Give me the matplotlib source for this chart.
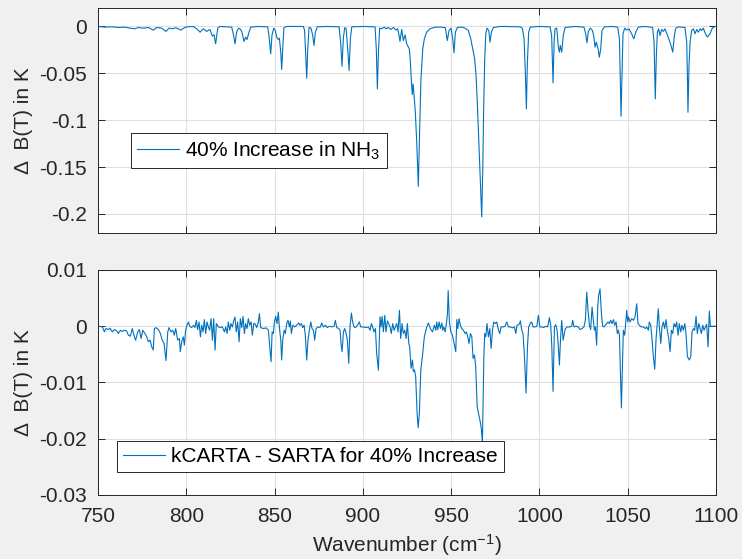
import matplotlib
matplotlib.use('Agg')
import matplotlib.pyplot as plt
import numpy as np

plt.rcParams['font.family'] = ['Liberation Sans', 'DejaVu Sans']
plt.rcParams['mathtext.default'] = 'regular'
plt.rcParams['axes.unicode_minus'] = False

# ---------------- top panel: 40% increase in NH3 ----------------
top_wn_a = [750.0, 754.0, 757.7, 761.5, 765.3, 768.1, 770.9, 772.8, 775.7, 778.5,
            781.3, 783.2, 786.1, 788.5, 790.2, 792.1, 794.0, 795.5, 797.0, 798.5,
            800.2, 804.0, 805.9, 807.8, 809.7, 811.5, 813.4, 814.8, 815.7, 816.6,
            817.8, 819.1, 825.7, 826.6, 827.6, 828.5, 829.5, 830.4, 831.4, 832.7,
            833.6, 834.4, 835.5, 836.5, 840.8, 846.1, 846.8, 847.8, 848.5, 849.5,
            850.4, 851.2, 852.1, 852.7, 853.5, 854.0, 854.6, 855.3, 856.9]
top_db_a = [0, -0.0007, -0.0004, -0.0011, -0.0007, -0.0018, -0.0025, -0.0011, -0.0018, -0.0011,
            -0.0039, -0.0011, -0.0018, -0.0053, -0.0018, -0.0025, -0.0014, -0.0025, -0.0039, -0.0018,
            -0.0004, 0, -0.0025, -0.0061, -0.0025, -0.0053, -0.0032, -0.0103, -0.0089, -0.0185,
            -0.0018, 0, -0.0007, -0.0078, -0.0185, -0.0061, -0.0018, -0.0025, -0.0053, -0.0160,
            -0.0114, -0.0139, -0.0061, -0.0007, 0, -0.0004, -0.0096, -0.0292, -0.0096, -0.0018,
            -0.0043, -0.0114, -0.0139, -0.0125, -0.0274, -0.0459, -0.0239, -0.0011, 0]

top_wn_b = [866.3, 867.0, 867.6, 868.2, 868.7, 869.5, 870.6, 871.6, 872.3, 873.1,
            874.2, 879.5, 886.5, 887.4, 888.2, 888.9, 889.7, 890.5, 891.4, 892.2,
            892.9, 893.7, 900.3, 906.9, 907.6, 908.2, 908.8, 909.5, 910.7, 912.0,
            913.1, 914.4, 915.8, 917.3, 918.8, 919.7, 920.5, 921.0, 922.0, 922.9,
            923.9, 924.8, 925.8, 926.3, 926.9, 927.5, 928.0, 928.4, 929.0, 929.7,
            930.5, 931.4, 932.2, 932.9, 933.9, 934.8, 936.1, 938.0, 940.9, 944.6,
            946.7, 947.8, 948.8, 949.9, 950.9, 951.6, 952.4, 953.5, 956.0, 957.9,
            959.7, 961.1, 962.2, 963.3, 964.1, 964.8, 965.8, 966.5, 967.3, 967.9,
            968.4, 969.0, 969.6, 970.3, 971.3, 972.0, 972.8, 973.9, 977.7]
top_db_b = [0, -0.0043, -0.0310, -0.0552, -0.0274, -0.0011, -0.0018, -0.0096, -0.0203, -0.0061,
            -0.0004, 0, -0.0004, -0.0167, -0.0424, -0.0132, -0.0014, -0.0018, -0.0239, -0.0470,
            -0.0132, -0.0004, 0, -0.0004, -0.0239, -0.0666, -0.0274, -0.0018, -0.0025, -0.0007,
            -0.0025, -0.0011, -0.0032, -0.0011, -0.0039, -0.0025, -0.0096, -0.0160, -0.0032, -0.0150,
            -0.0089, -0.0185, -0.0221, -0.0239, -0.0381, -0.0595, -0.0726, -0.0613, -0.0737, -0.0915,
            -0.1236, -0.1706, -0.1058, -0.0559, -0.0239, -0.0132, -0.0061, -0.0025, -0.0007, -0.0007,
            -0.0014, -0.0150, -0.0043, -0.0018, -0.0132, -0.0281, -0.0061, -0.0011, -0.0007, -0.0018,
            -0.0043, -0.0132, -0.0239, -0.0345, -0.0524, -0.0808, -0.1307, -0.1663, -0.2030, -0.1521,
            -0.0880, -0.0345, -0.0078, -0.0018, -0.0043, -0.0167, -0.0061, -0.0011, 0]

top_wn_c = [980.5, 989.0, 990.3, 991.3, 992.0, 992.6, 993.1, 993.9, 994.8, 999.4,
            1006.0, 1006.9, 1007.7, 1008.3, 1008.8, 1009.8, 1010.7, 1011.3, 1011.8, 1012.6,
            1013.5, 1014.5, 1020.1, 1025.2, 1026.2, 1026.9, 1027.7, 1028.8, 1030.0, 1030.7,
            1031.5, 1032.2, 1033.2, 1033.9, 1034.7, 1035.4, 1036.8, 1040.9, 1044.3, 1045.3,
            1045.8, 1046.2, 1046.8, 1047.3, 1048.3, 1049.4, 1050.7, 1052.2, 1053.4, 1054.7,
            1056.0, 1059.8, 1064.1, 1064.9, 1065.3, 1065.6, 1066.2, 1066.8, 1067.5, 1068.3,
            1069.2, 1070.2, 1071.1, 1072.4, 1073.6, 1074.5, 1075.5, 1076.4, 1077.2, 1078.7,
            1082.4, 1083.4, 1083.8, 1084.1, 1084.7, 1085.3, 1086.2, 1087.2, 1088.1, 1089.1,
            1090.0, 1091.0, 1091.9, 1092.8, 1093.8, 1095.1, 1096.6, 1097.9, 1099.4, 1100.0]
top_db_c = [0, -0.0004, -0.0018, -0.0132, -0.0488, -0.0880, -0.0417, -0.0061, -0.0007, 0,
            -0.0004, -0.0096, -0.0602, -0.0167, -0.0025, -0.0018, -0.0221, -0.0274, -0.0203, -0.0274,
            -0.0096, -0.0011, 0, -0.0007, -0.0078, -0.0175, -0.0053, -0.0018, -0.0043, -0.0096,
            -0.0221, -0.0167, -0.0239, -0.0328, -0.0239, -0.0043, -0.0004, 0, -0.0007, -0.0132,
            -0.0595, -0.0958, -0.0452, -0.0078, -0.0018, -0.0039, -0.0025, -0.0078, -0.0132, -0.0053,
            -0.0007, 0, -0.0011, -0.0167, -0.0524, -0.0773, -0.0310, -0.0061, -0.0025, -0.0096,
            -0.0032, -0.0053, -0.0025, -0.0089, -0.0150, -0.0203, -0.0274, -0.0096, -0.0018, -0.0004,
            -0.0011, -0.0167, -0.0524, -0.0915, -0.0417, -0.0167, -0.0043, -0.0025, -0.0078, -0.0032,
            -0.0061, -0.0025, -0.0043, -0.0018, -0.0068, -0.0114, -0.0078, -0.0018, 0, 0]

# ---------------- bottom panel: kCARTA - SARTA ----------------
bot_wn_a = [750.0, 752.5, 753.6, 754.5, 755.9, 756.8, 758.1, 759.3, 760.6, 761.5,
            762.7, 763.8, 764.9, 766.2, 767.2, 768.3, 769.4, 770.6, 771.3, 772.5,
            773.4, 774.4, 775.3, 776.6, 777.6, 778.5, 779.5, 780.4, 781.3, 781.9,
            782.8, 784.2, 785.3, 786.4, 787.4, 787.9, 788.5, 789.5, 790.2, 791.3,
            792.3, 793.2, 794.0, 795.1, 796.1, 796.6, 797.4, 798.3, 798.9, 799.6]
bot_db_a = [0, -0.00012, -0.00100, -0.00041, -0.00059, -0.00035, -0.00100, -0.00059, -0.00082, -0.00129,
            -0.00071, -0.00094, -0.00071, -0.00082, -0.00159, -0.00176, -0.00041, -0.00188, -0.00247, -0.00100,
            -0.00059, -0.00218, -0.00071, -0.00129, -0.00188, -0.00276, -0.00247, -0.00365, -0.00423, -0.00041,
            -0.00024, -0.00059, -0.00129, -0.00247, -0.00306, -0.00453, -0.00611, -0.00100, -0.00024, -0.00100,
            -0.00071, -0.00159, -0.00041, -0.00247, -0.00218, -0.00453, -0.00276, -0.00188, -0.00335, -0.00071]

bot_wn_b = [800.4, 801.2, 801.9, 803.0, 804.2, 804.9, 805.7, 806.4, 807.2, 808.0,
            808.7, 809.5, 810.2, 811.0, 811.7, 812.5, 813.2, 814.0, 814.8, 815.5,
            816.3, 817.0, 818.2, 819.3, 820.4, 821.6, 822.3, 823.1, 823.8, 824.6,
            825.3, 826.1, 826.8, 827.6, 828.3, 829.1, 829.9, 830.6, 831.4, 832.1,
            832.9, 833.6, 834.4, 835.1, 835.9, 836.7, 837.4, 838.2]
bot_db_b = [0.00018, 0.00076, 0, -0.00024, 0.00018, -0.00024, 0.00106, -0.00059, 0.00076, -0.00188,
            0.00018, -0.00100, 0.00118, -0.00129, 0.00076, -0.00012, -0.00071, 0.00135, -0.00247, 0.00135,
            -0.00423, 0.00047, -0.00012, -0.00024, -0.00012, -0.00100, -0.00012, -0.00129, 0.00076, -0.00071,
            0.00047, -0.00012, 0.00094, 0.00165, -0.00100, 0.00076, -0.00276, 0.00135, -0.00024, 0.00176,
            -0.00129, 0.00047, -0.00041, 0.00135, 0.00018, 0.00076, -0.00159, 0.00047]

bot_wn_c = [838.9, 839.9, 840.8, 841.4, 842.1, 843.7, 845.2, 846.5, 847.4, 848.0,
            848.6, 849.3, 849.9, 850.6, 851.4, 852.1, 852.7, 853.5, 854.0, 854.6,
            855.4, 856.1, 856.9, 857.6, 858.4, 858.9, 859.5, 860.3, 861.4, 862.5,
            863.7, 864.4, 865.2, 865.9, 866.7, 867.4, 868.2, 868.9, 869.7, 870.5,
            871.2, 872.0, 872.7, 873.5, 874.6, 875.7, 876.7, 877.6, 878.8, 879.9,
            881.0, 882.4, 883.7, 884.4, 885.2, 886.3, 887.1, 887.6, 888.2, 889.0,
            889.7, 890.5, 891.2, 892.0, 892.7, 893.5, 894.2, 895.0, 895.8, 896.9,
            898.0, 898.8, 900.3, 901.8, 903.1, 904.1, 904.8, 905.6, 906.3, 907.1,
            907.8, 908.8, 909.7, 910.3, 910.9, 911.6, 912.4, 913.1, 913.9, 914.6,
            915.4, 916.1, 916.9, 917.7, 918.4, 919.2, 919.9, 920.7, 921.4, 922.2,
            922.9, 923.7, 924.5, 925.2, 926.0]
bot_db_c = [0.00047, -0.00024, 0.00076, 0.00223, -0.00024, -0.00041, -0.00029, -0.00071, -0.00423, -0.00629,
            -0.00100, -0.00129, 0.00076, 0.00176, 0.00047, 0.00253, -0.00012, -0.00247, -0.00600, -0.00247,
            -0.00071, -0.00129, 0.00047, 0.00106, -0.00012, 0.00094, -0.00129, 0.00018, -0.00012, 0.00018,
            0.00059, 0.00018, 0.00047, -0.00024, 0.00018, -0.00159, -0.00600, -0.00247, -0.00071, 0.00076,
            -0.00041, -0.00071, -0.00247, -0.00041, -0.00012, -0.00024, 0.00059, -0.00012, 0.00018, -0.00024,
            0, -0.00012, 0, 0.00106, -0.00024, -0.00041, -0.00071, -0.00306, -0.00453, -0.00100,
            -0.00041, -0.00129, -0.00247, -0.00658, -0.00012, 0.00235, 0.00076, -0.00012, -0.00024, 0.00018,
            0.00076, -0.00012, -0.00012, -0.00024, -0.00012, -0.00071, 0.00047, -0.00024, -0.00100, -0.00041,
            -0.00482, -0.00782, 0.00165, -0.00012, 0.00176, -0.00100, 0.00194, -0.00100, 0.00094, 0.00047,
            -0.00012, -0.00129, 0.00047, -0.00071, -0.00012, 0.00047, -0.00100, 0.00282, -0.00218, 0.00047,
            -0.00129, -0.00071, -0.00218, 0.00047, -0.00306]

bot_wn_d = [926.5, 927.3, 928.1, 928.6, 929.2, 929.9, 930.7, 931.3, 932.0, 932.8,
            933.7, 934.8, 936.2, 937.1, 938.2, 939.4, 940.5, 941.3, 941.8, 942.4,
            943.2, 943.9, 944.7, 945.2, 945.8, 946.6, 947.3, 947.9, 948.3, 949.0,
            949.8, 950.7, 951.8, 952.6, 953.2, 953.7, 954.5, 955.2, 956.0, 956.9,
            957.9, 958.6, 959.4, 960.1, 960.9, 961.7, 962.4, 963.2, 963.9, 964.7,
            965.4, 966.4, 967.1, 967.7, 968.5, 969.0, 969.6, 970.3, 971.1, 971.9,
            972.6, 973.4, 974.1, 974.9, 975.8, 976.8, 977.5, 978.3, 979.4, 980.5,
            981.5, 982.4, 983.6, 984.7, 985.8, 986.6, 987.3, 988.5, 989.2, 990.0,
            990.7, 991.5, 992.4, 993.2, 993.9, 994.9, 995.6, 996.4, 997.5, 998.5,
            999.4, 1000.2, 1001.3, 1002.4, 1003.6, 1004.7, 1005.6, 1006.4, 1007.0, 1007.7,
            1008.5, 1009.2, 1010.0, 1010.7, 1011.3, 1011.9, 1012.6, 1013.4, 1014.1]
bot_db_d = [-0.00365, -0.00747, -0.00600, -0.00805, -0.00776, -0.00894, -0.01540, -0.01805, -0.01540, -0.00776,
            -0.00541, -0.00188, -0.00012, 0.00059, -0.00041, -0.00100, 0.00018, -0.00071, 0.00076, -0.00059,
            0.00076, -0.00041, 0.00059, -0.00071, -0.00012, -0.00100, 0.00047, 0.00223, 0.00635, 0.00076,
            -0.00100, -0.00159, -0.00335, -0.00453, 0.00118, -0.00041, 0.00135, 0.00018, -0.00041, -0.00071,
            -0.00129, -0.00100, -0.00188, -0.00306, -0.00129, -0.00188, -0.00570, -0.00511, -0.00717, -0.01411,
            -0.01540, -0.01687, -0.01822, -0.02069, -0.00541, -0.00129, -0.00188, 0.00047, -0.00188, -0.00041,
            -0.00394, -0.00071, 0.00076, 0.00047, 0.00076, -0.00071, -0.00129, -0.00012, -0.00012, 0,
            0.00076, -0.00012, -0.00012, -0.00029, -0.00012, -0.00129, 0.00018, 0.00035, 0.00094, -0.00071,
            -0.00129, -0.00541, -0.01188, -0.00365, -0.00012, 0.00059, 0.00076, -0.00012, -0.00012, 0,
            0.00194, -0.00012, -0.00012, -0.00024, 0, -0.00012, 0.00153, 0.00018, -0.00365, -0.01158,
            -0.00012, 0.00029, -0.00071, -0.00365, -0.00688, -0.00247, 0.00106, -0.00247, -0.00129]

bot_wn_e = [1014.7, 1015.8, 1017.3, 1018.3, 1018.8, 1019.6, 1020.7, 1022.0, 1023.0, 1024.1,
            1025.2, 1026.0, 1026.8, 1027.5, 1028.3, 1029.0, 1029.8, 1030.5, 1031.1, 1031.7,
            1032.4, 1033.0, 1033.5, 1034.3, 1035.1, 1035.8, 1036.6, 1037.3, 1038.1, 1038.8,
            1039.6, 1040.3, 1041.1, 1041.9, 1042.6, 1043.4, 1044.1, 1044.7, 1045.3, 1045.8,
            1046.4, 1047.0, 1047.5, 1048.3, 1048.8, 1049.4, 1050.0, 1050.5, 1051.3, 1052.2,
            1053.2, 1054.1, 1055.1, 1055.8, 1056.6, 1057.7, 1058.8, 1060.0, 1060.7, 1061.7,
            1062.2, 1063.0, 1063.8, 1064.5, 1065.3, 1066.0, 1066.8, 1067.3, 1067.9, 1068.7,
            1069.4, 1070.2, 1070.9, 1071.7, 1072.4, 1073.2, 1074.0, 1074.7, 1075.5, 1076.2,
            1077.0, 1077.7, 1078.5, 1079.2, 1080.0, 1080.7, 1081.5, 1082.3, 1083.0, 1083.8,
            1084.9, 1085.7, 1086.4, 1087.2, 1087.9, 1088.7, 1089.4, 1090.2, 1091.0, 1091.7,
            1092.5, 1093.2, 1094.0, 1094.7, 1095.5, 1096.2, 1096.8, 1098.5, 1100.0]
bot_db_e = [-0.00041, -0.00012, -0.00012, 0, 0.00106, -0.00012, 0, -0.00012, -0.00059, -0.00041,
            -0.00012, 0.00106, 0.00606, 0.00282, 0.00018, -0.00059, 0.00341, 0.00106, -0.00071, -0.00012,
            -0.00335, 0.00341, 0.00547, 0.00664, 0.00223, 0, -0.00012, 0.00018, 0.00047, 0.00076,
            0.00047, 0.00106, 0.00047, 0.00118, 0.00018, 0.00076, -0.00129, -0.00071, -0.00159, -0.00717,
            -0.01452, -0.00717, -0.00071, -0.00159, 0.00047, 0.00282, 0.00076, 0.00165, 0.00076, 0.00135,
            0.00106, 0.00165, 0.00400, 0.00047, 0.00018, -0.00012, -0.00012, -0.00041, -0.00012, -0.00071,
            0.00076, 0.00018, -0.00247, -0.00541, -0.00764, -0.00247, 0.00106, 0.00312, -0.00012, -0.00306,
            -0.00012, 0.00076, -0.00041, 0.00118, -0.00071, -0.00218, -0.00453, -0.00071, -0.00129, 0.00047,
            -0.00012, 0.00076, -0.00159, 0.00047, -0.00100, 0.00018, -0.00071, 0.00047, -0.00129, -0.00541,
            -0.00600, -0.00541, -0.00100, -0.00041, -0.00071, 0.00176, -0.00129, 0.00047, -0.00041, -0.00129,
            0.00018, -0.00071, -0.00012, 0.00035, -0.00365, 0.00270, 0, 0, 0]

x_ticks = [750, 800, 850, 900, 950, 1000, 1050, 1100]
x_ticklabels = ['750', '800', '850', '900', '950', '1000', '1050', '1100']
top_yticks = [0, -0.05, -0.1, -0.15, -0.2]
top_yticklabels = ['0', '-0.05', '-0.1', '-0.15', '-0.2']
bot_yticks = [0.01, 0, -0.01, -0.02, -0.03]
bot_yticklabels = ['0.01', '0', '-0.01', '-0.02', '-0.03']

top_wn = np.array(top_wn_a + top_wn_b + top_wn_c)
top_db = np.array(top_db_a + top_db_b + top_db_c)
bot_wn = np.array(bot_wn_a + bot_wn_b + bot_wn_c + bot_wn_d + bot_wn_e)
bot_db = np.array(bot_db_a + bot_db_b + bot_db_c + bot_db_d + bot_db_e)

LINE = '#0072BD'
AXC = '#262626'
FS = 15

fig = plt.figure(figsize=(7.42, 5.59), dpi=100, facecolor='#f0f0f0')
ax1 = fig.add_axes([0.1321, 0.5837, 0.8329, 0.4025])
ax2 = fig.add_axes([0.1321, 0.1145, 0.8329, 0.4025])


def style(ax):
    ax.set_facecolor('white')
    for s in ax.spines.values():
        s.set_color(AXC)
        s.set_linewidth(0.7)
    ax.tick_params(direction='in', length=5, width=0.7, colors=AXC,
                   labelsize=FS, top=True, right=True)
    ax.tick_params(axis='y', pad=8)
    ax.tick_params(axis='x', pad=9)
    ax.grid(True, color='#e0e0e0', linewidth=0.8)
    ax.set_axisbelow(True)
    ax.set_xlim(750, 1100)
    ax.set_xticks(x_ticks)


style(ax1)
style(ax2)

ylabel_text = 'Δ  B(T) in K'

ax1.plot(top_wn, top_db, color=LINE, linewidth=0.8, label='40% Increase in NH$_3$')
ax1.set_ylim(-0.22, 0.02)
ax1.set_yticks(top_yticks)
ax1.set_yticklabels(top_yticklabels)
ax1.set_xticklabels([])
ax1.set_ylabel(ylabel_text, fontsize=15, color=AXC)
ax1.yaxis.set_label_coords(-0.105, 0.5)
leg1 = ax1.legend(loc='upper left', bbox_to_anchor=(0.0534, 0.443), borderaxespad=0,
                  fontsize=FS, handlelength=2.0, handletextpad=0.3, borderpad=0.3,
                  fancybox=False, framealpha=1, edgecolor=AXC)
leg1.get_frame().set_linewidth(0.7)

ax2.plot(bot_wn, bot_db, color=LINE, linewidth=0.8, label='kCARTA - SARTA for 40% Increase')
ax2.set_ylim(-0.03, 0.01)
ax2.set_yticks(bot_yticks)
ax2.set_yticklabels(bot_yticklabels)
ax2.set_xticklabels(x_ticklabels)
ax2.set_ylabel(ylabel_text, fontsize=15, color=AXC)
ax2.yaxis.set_label_coords(-0.105, 0.5)
ax2.set_xlabel('Wavenumber (cm$^{-1}$)', fontsize=FS, color=AXC, labelpad=4)
leg2 = ax2.legend(loc='upper left', bbox_to_anchor=(0.0307, 0.24), borderaxespad=0,
                  fontsize=FS, handlelength=2.0, handletextpad=0.3, borderpad=0.3,
                  fancybox=False, framealpha=1, edgecolor=AXC)
leg2.get_frame().set_linewidth(0.7)

fig.savefig('out.png', dpi=100, facecolor=fig.get_facecolor())
